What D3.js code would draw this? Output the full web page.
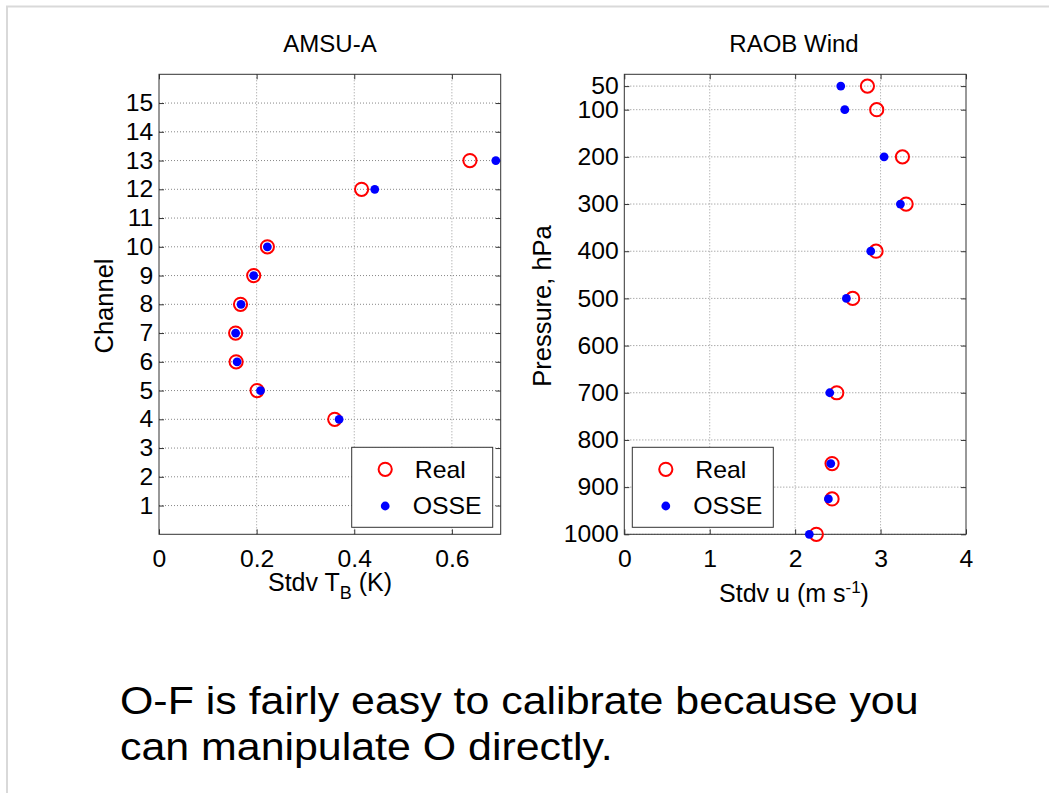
<!DOCTYPE html>
<html>
<head>
<meta charset="utf-8">
<script src="https://cdn.jsdelivr.net/npm/d3@7"></script>
<style>
  html, body { margin: 0; padding: 0; background: #fff; }
  svg { display: block; }
  text { font-family: "Liberation Sans", Arial, Helvetica, sans-serif; fill: #000; }
</style>
</head>
<body>
<svg id="chart" width="1049" height="793"></svg>
<script>
// ---------------- data ----------------
const amsuChannels = [4, 5, 6, 7, 8, 9, 10, 12, 13];
const amsuReal     = [0.360, 0.201, 0.158, 0.157, 0.167, 0.194, 0.222, 0.415, 0.637];
const amsuOSSE     = [0.369, 0.208, 0.160, 0.157, 0.168, 0.194, 0.222, 0.442, 0.690];
const amsuYTicks   = [1, 2, 3, 4, 5, 6, 7, 8, 9, 10, 11, 12, 13, 14, 15];
const amsuXTicks   = [0, 0.2, 0.4, 0.6];

const raobLevels   = [50, 100, 200, 300, 400, 500, 700, 850, 925, 1000];
const raobReal     = [2.846, 2.955, 3.256, 3.299, 2.947, 2.674, 2.487, 2.432, 2.432, 2.248];
const raobOSSE     = [2.534, 2.581, 3.041, 3.232, 2.885, 2.600, 2.405, 2.417, 2.389, 2.166];
const raobYTicks   = [50, 100, 200, 300, 400, 500, 600, 700, 800, 900, 1000];
const raobXTicks   = [0, 1, 2, 3, 4];

const seriesNames  = ["Real", "OSSE"];
const caption      = ["O-F is fairly easy to calibrate because you", "can manipulate O directly."];

// ---------------- layout ----------------
const svg = d3.select("#chart");
const RED = "#ff0000", BLUE = "#0000ff", AXIS = "#333";
const plotTop = 74.3, plotBottom = 534.3;

// page border
svg.append("line").attr("x1", 6).attr("x2", 1049).attr("y1", 6.5).attr("y2", 6.5)
  .attr("stroke", "#d9d9d9").attr("stroke-width", 2);
svg.append("line").attr("x1", 7).attr("x2", 7).attr("y1", 6).attr("y2", 793)
  .attr("stroke", "#d9d9d9").attr("stroke-width", 2);

function stretchedText(parent, x, y, str, size, sx, anchor) {
  const g = parent.append("g").attr("transform", `translate(${x},${y}) scale(${sx},1)`);
  return g.append("text").attr("x", 0).attr("y", 0)
    .attr("font-size", size).attr("text-anchor", anchor || "start").text(str);
}

function panel(opts) {
  const { x, y, xTicks, yTicks, xFmt, yFmt, cats, real, osse, legendCorner } = opts;
  const g = svg.append("g");
  const [x0, x1] = x.range();

  // grid
  g.append("g").selectAll("line").data(yTicks).join("line")
    .attr("x1", x0).attr("x2", x1).attr("y1", d => y(d)).attr("y2", d => y(d))
    .attr("stroke", "#888").attr("stroke-width", 1).attr("stroke-dasharray", "1,2");
  g.append("g").selectAll("line").data(xTicks.filter(d => x(d) > x0 + 1 && x(d) < x1 - 1)).join("line")
    .attr("x1", d => x(d)).attr("x2", d => x(d)).attr("y1", plotTop).attr("y2", plotBottom)
    .attr("stroke", "#999").attr("stroke-width", 1).attr("stroke-dasharray", "1,2");

  // axes (ticks inward on all four sides)
  const left = g.append("g").attr("transform", `translate(${x0},0)`)
    .call(d3.axisLeft(y).tickValues(yTicks).tickFormat(yFmt).tickSizeInner(-5).tickSizeOuter(0).tickPadding(5.5));
  const right = g.append("g").attr("transform", `translate(${x1},0)`)
    .call(d3.axisRight(y).tickValues(yTicks).tickFormat("").tickSizeInner(-5).tickSizeOuter(0));
  const bot = g.append("g").attr("transform", `translate(0,${plotBottom})`)
    .call(d3.axisBottom(x).tickValues(xTicks).tickFormat(xFmt).tickSizeInner(-5).tickSizeOuter(0).tickPadding(16));
  const topAx = g.append("g").attr("transform", `translate(0,${plotTop})`)
    .call(d3.axisTop(x).tickValues(xTicks).tickFormat("").tickSizeInner(-5).tickSizeOuter(0));
  [left, right, bot, topAx].forEach(a => {
    a.select(".domain").remove();
    a.selectAll("line").attr("stroke", AXIS);
    a.selectAll("text").attr("font-size", 24).attr("fill", "#000")
      .attr("font-family", '"Liberation Sans", Arial, sans-serif')
      .attr("transform", "scale(1.03,1)");
  });
  // box
  g.append("rect").attr("x", x0).attr("y", plotTop).attr("width", x1 - x0).attr("height", plotBottom - plotTop)
    .attr("fill", "none").attr("stroke", AXIS).attr("stroke-width", 1);

  // markers
  g.append("g").selectAll("circle").data(cats).join("circle")
    .attr("cx", (d, i) => x(real[i])).attr("cy", d => y(d)).attr("r", 6.6)
    .attr("fill", "none").attr("stroke", RED).attr("stroke-width", 2);
  g.append("g").selectAll("circle").data(cats).join("circle")
    .attr("cx", (d, i) => x(osse[i])).attr("cy", d => y(d)).attr("r", 4.4)
    .attr("fill", BLUE);

  // legend
  const lw = 141, lh = 80;
  const lx = legendCorner === "right" ? x1 - 8 - lw : x0 + 8;
  const ly = plotBottom - 7 - lh;
  const lg = g.append("g").attr("transform", `translate(${lx},${ly})`);
  lg.append("rect").attr("x", 0).attr("y", 0).attr("width", lw).attr("height", lh)
    .attr("fill", "#fff").attr("stroke", AXIS).attr("stroke-width", 1);
  lg.append("circle").attr("cx", 33.5).attr("cy", 22).attr("r", 6.6)
    .attr("fill", "none").attr("stroke", RED).attr("stroke-width", 2);
  lg.append("circle").attr("cx", 33.5).attr("cy", 58.7).attr("r", 4.4).attr("fill", BLUE);
  stretchedText(lg, 63, 30.5, seriesNames[0], 23, 1.08);
  stretchedText(lg, 61, 67, seriesNames[1], 23, 1.08);
  return g;
}

// ---------------- left panel: AMSU-A ----------------
const xL = d3.scaleLinear().domain([0, 0.7]).range([159, 500.7]);
const yL = d3.scaleLinear().domain([0, 16]).range([plotBottom, plotTop]);
panel({
  x: xL, y: yL, xTicks: amsuXTicks, yTicks: amsuYTicks,
  xFmt: d => d === 0 ? "0" : d3.format(".1f")(d), yFmt: d => d,
  cats: amsuChannels, real: amsuReal, osse: amsuOSSE, legendCorner: "right"
});

// ---------------- right panel: RAOB Wind ----------------
const xR = d3.scaleLinear().domain([0, 4]).range([624.3, 966]);
const yR = d3.scaleLinear().domain([25, 1000]).range([plotTop, plotBottom]);
panel({
  x: xR, y: yR, xTicks: raobXTicks, yTicks: raobYTicks,
  xFmt: d => d, yFmt: d => d,
  cats: raobLevels, real: raobReal, osse: raobOSSE, legendCorner: "left"
});

// titles
stretchedText(svg, 330, 52, "AMSU-A", 24.5, 0.98, "middle");
stretchedText(svg, 794, 52, "RAOB Wind", 24.5, 0.98, "middle");

// axis labels
const xlabL = svg.append("text").attr("x", 330).attr("y", 591)
  .attr("font-size", 25).attr("text-anchor", "middle");
xlabL.append("tspan").text("Stdv T");
xlabL.append("tspan").attr("font-size", 18).attr("dy", 8).text("B");
xlabL.append("tspan").attr("dy", -8).text(" (K)");

const xlabR = svg.append("text").attr("x", 794).attr("y", 602)
  .attr("font-size", 25).attr("text-anchor", "middle");
xlabR.append("tspan").text("Stdv u (m s");
xlabR.append("tspan").attr("font-size", 17).attr("dy", -9).text("-1");
xlabR.append("tspan").attr("dy", 9).text(")");

svg.append("text").attr("transform", "translate(113,306) rotate(-90)")
  .attr("font-size", 25.5).attr("text-anchor", "middle").text("Channel");
svg.append("text").attr("transform", "translate(551,306) rotate(-90)")
  .attr("font-size", 25.5).attr("text-anchor", "middle").text("Pressure, hPa");

// caption
stretchedText(svg, 120, 714, caption[0], 39, 1.1);
stretchedText(svg, 120, 760, caption[1], 39, 1.1);
</script>
</body>
</html>
